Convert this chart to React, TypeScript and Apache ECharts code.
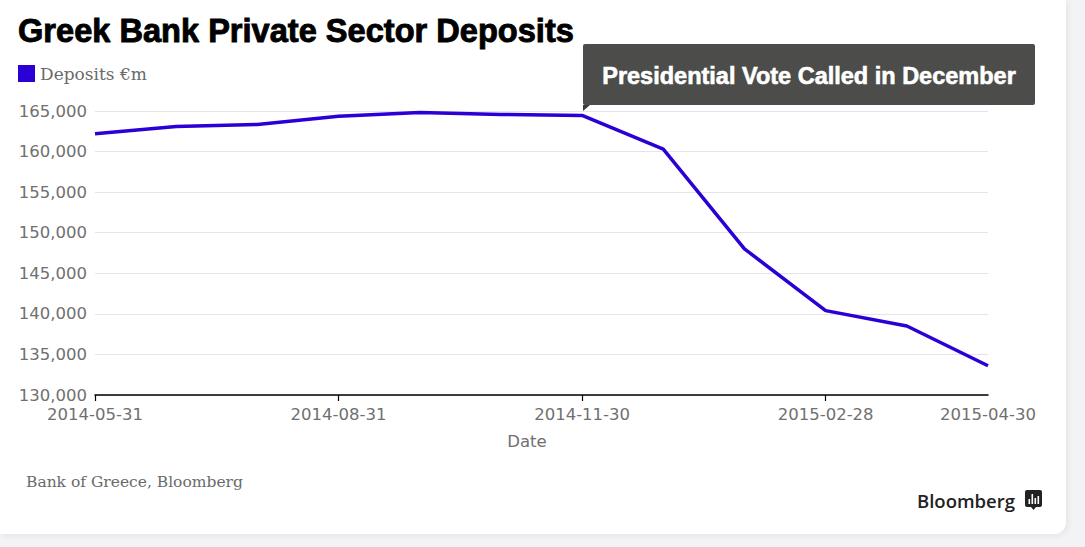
import React, { useEffect, useRef } from "react";
import * as echarts from "echarts";

const dates = [
  "2014-05-31", "2014-06-30", "2014-07-31", "2014-08-31", "2014-09-30", "2014-10-31",
  "2014-11-30", "2014-12-31", "2015-01-31", "2015-02-28", "2015-03-31", "2015-04-30",
];
const deposits = [
  162200, 163100, 163350, 164360, 164830, 164580,
  164460, 160310, 148010, 140400, 138510, 133610,
];
const labeledIdx = [0, 3, 6, 9, 11];
const tickIdx = [0, 3, 6, 9];
const seriesName = "Deposits €m";
const titleText = "Greek Bank Private Sector Deposits";
const noteText = "Presidential Vote Called in December";
const noteIdx = 6;
const sourceText = "Bank of Greece, Bloomberg";

const W = 1066;
const H = 534;

export default function App() {
  const ref = useRef<HTMLDivElement>(null);
  useEffect(() => {
    if (!ref.current) return;
    const chart = echarts.init(ref.current, undefined, { renderer: "svg", width: W, height: H });
    const lineColor = "#2B00D6";
    const grey = "#707070";
    chart.setOption({
      animation: false,
      backgroundColor: "#ffffff",
      title: {
        text: titleText,
        left: 18,
        top: 14,
        padding: 0,
        textStyle: {
          fontFamily: "Liberation Sans",
          fontWeight: "bold",
          fontSize: 32.6,
          color: "#000",
          textBorderColor: "#000",
          textBorderWidth: 0.9,
        },
      },
      legend: {
        left: 18,
        top: 65,
        padding: 0,
        icon: "rect",
        itemWidth: 17,
        itemHeight: 17,
        itemGap: 6,
        data: [seriesName],
        textStyle: { fontFamily: "DejaVu Serif", fontSize: 17, color: "#6a6a6a" },
      },
      grid: { left: 95, right: W - 988, top: 111, bottom: H - 395, containLabel: false },
      xAxis: {
        type: "category",
        data: dates,
        boundaryGap: false,
        name: "Date",
        nameLocation: "middle",
        nameGap: 38,
        nameTextStyle: { fontFamily: "DejaVu Sans", fontSize: 16.5, color: grey, padding: [0, 29, 0, 0] },
        axisLine: { lineStyle: { color: "#000", width: 1.5 } },
        axisTick: {
          show: true,
          length: 6,
          interval: (i: number) => tickIdx.includes(i),
          lineStyle: { color: "#000", width: 1.2 },
        },
        axisLabel: {
          interval: (i: number) => labeledIdx.includes(i),
          margin: 11,
          fontFamily: "DejaVu Sans",
          fontSize: 16.5,
          color: grey,
        },
        splitLine: { show: false },
      },
      yAxis: {
        type: "value",
        min: 130000,
        max: 165000,
        interval: 5000,
        axisLine: { show: false },
        axisTick: { show: false },
        axisLabel: {
          margin: 8,
          fontFamily: "DejaVu Sans",
          fontSize: 16.5,
          color: grey,
          formatter: (v: number) => v.toLocaleString("en-US"),
        },
        splitLine: { lineStyle: { color: "#e4e4ec", width: 1 } },
      },
      series: [
        {
          name: seriesName,
          type: "line",
          data: deposits,
          showSymbol: false,
          symbol: "none",
          itemStyle: { color: lineColor },
          lineStyle: { color: lineColor, width: 3.5 },
        },
      ],
    });

    const p = chart.convertToPixel({ xAxisIndex: 0, yAxisIndex: 0 }, [noteIdx, deposits[noteIdx]]) as number[];
    const bx = Math.round(p[0]) + 1;
    const by = Math.round(p[1]) - 71;
    const bw = 452;
    const bh = 61;
    chart.setOption({
      graphic: [
        {
          type: "rect",
          shape: { x: bx, y: by, width: bw, height: bh, r: 2 },
          style: { fill: "#4c4d4a" },
          z: 100,
        },
        {
          type: "polygon",
          shape: { points: [[bx, by + bh], [bx + 7, by + bh], [bx, by + bh + 6]] },
          style: { fill: "#3a3a38" },
          z: 100,
        },
        {
          type: "text",
          x: bx + bw / 2,
          y: by + bh / 2 + 1,
          style: {
            text: noteText,
            fill: "#ffffff",
            font: "bold 23.5px 'Liberation Sans'",
            stroke: "#ffffff",
            lineWidth: 0.6,
            align: "center",
            verticalAlign: "middle",
          },
          z: 101,
        },
        {
          type: "text",
          x: 26,
          y: 482,
          style: {
            text: sourceText,
            fill: "#6a6a6a",
            font: "15.5px 'DejaVu Serif'",
            verticalAlign: "middle",
          },
        },
        {
          type: "text",
          x: 1015,
          y: 500,
          style: {
            text: "Bloomberg",
            fill: "#222222",
            font: "600 18.5px 'Open Sans'",
            align: "right",
            verticalAlign: "middle",
          },
        },
        {
          type: "group",
          x: 1025,
          y: 490,
          children: [
            { type: "rect", shape: { x: 0, y: 0, width: 17, height: 17, r: 2 }, style: { fill: "#222222" } },
            { type: "polygon", shape: { points: [[6, 17], [11, 17], [8.5, 20]] }, style: { fill: "#222222" } },
            { type: "rect", shape: { x: 3.5, y: 9, width: 1.6, height: 5 }, style: { fill: "#fff" } },
            { type: "rect", shape: { x: 6.5, y: 4, width: 1.6, height: 10 }, style: { fill: "#fff" } },
            { type: "rect", shape: { x: 9.5, y: 8, width: 1.6, height: 6 }, style: { fill: "#fff" } },
            { type: "rect", shape: { x: 12.5, y: 6, width: 1.6, height: 8 }, style: { fill: "#fff" } },
          ],
        },
      ],
    });
    return () => chart.dispose();
  }, []);

  return (
    <div
      style={{
        position: "fixed",
        left: 0,
        top: 0,
        width: 1085,
        height: 547,
        background: "#f3f2f5",
        overflow: "hidden",
      }}
    >
      <div
        style={{
          position: "absolute",
          left: 0,
          top: 0,
          width: W,
          height: H,
          background: "#fff",
          borderBottomRightRadius: 12,
          boxShadow: "2px 2px 6px rgba(0,0,0,0.06)",
          overflow: "hidden",
        }}
      >
        <div ref={ref} style={{ width: W, height: H }} />
      </div>
    </div>
  );
}
